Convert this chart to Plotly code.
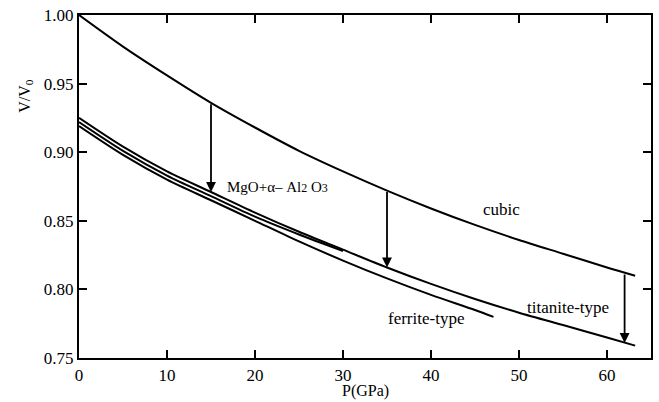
import plotly.graph_objects as go

# Pressure grid (GPa) and relative volumes V/V0 for each phase
p_cubic = [0, 5, 10, 15, 20, 25, 30, 35, 40, 45, 50, 55, 60, 63.2]
v_cubic = [1.000, 0.977, 0.956, 0.936, 0.918, 0.901, 0.886, 0.872, 0.859, 0.847, 0.836, 0.826, 0.816, 0.810]

p_titanite = [0, 5, 10, 15, 20, 25, 30, 35, 40, 45, 50, 55, 60, 63.2]
v_titanite = [0.925, 0.904, 0.886, 0.871, 0.856, 0.842, 0.829, 0.816, 0.804, 0.793, 0.783, 0.774, 0.765, 0.759]

p_oxides = [0, 5, 10, 15, 20, 25, 30]
v_oxides = [0.922, 0.901, 0.883, 0.868, 0.853, 0.840, 0.828]

p_ferrite = [0, 5, 10, 15, 20, 25, 30, 35, 40, 45, 47.1]
v_ferrite = [0.919, 0.898, 0.880, 0.865, 0.850, 0.835, 0.821, 0.808, 0.796, 0.785, 0.780]

# Transition arrows: pressure, V/V0 at start (cubic) and end (titanite-type)
arrow_p = [15, 35, 62]
arrow_from = [0.936, 0.872, 0.812]
arrow_to = [0.871, 0.816, 0.761]

x_ticks = [0, 10, 20, 30, 40, 50, 60]
y_ticks = [0.75, 0.80, 0.85, 0.90, 0.95, 1.00]

FONT = "Liberation Serif, Times New Roman, serif"

fig = go.Figure()
line_style = dict(color="black", width=2, shape="spline", smoothing=0.8)
for px, vy in [(p_cubic, v_cubic), (p_titanite, v_titanite),
               (p_oxides, v_oxides), (p_ferrite, v_ferrite)]:
    fig.add_trace(go.Scatter(x=px, y=vy, mode="lines", line=line_style,
                             showlegend=False, hoverinfo="skip"))

annotations = []
for p, y0, y1 in zip(arrow_p, arrow_from, arrow_to):
    annotations.append(dict(x=p, y=y1, ax=p, ay=y0, xref="x", yref="y",
                            axref="x", ayref="y", showarrow=True,
                            arrowhead=2, arrowsize=1.1, arrowwidth=1.8,
                            arrowcolor="black", text=""))

label_font = dict(family=FONT, size=17, color="black")
annotations += [
    dict(x=48.0, y=0.858, text="cubic", showarrow=False, font=label_font),
    dict(x=55.6, y=0.787, text="titanite-type", showarrow=False, font=label_font),
    dict(x=39.4, y=0.779, text="ferrite-type", showarrow=False, font=label_font),
    dict(x=16.6, y=0.875, xanchor="left",
         text='MgO+α– Al<span style="font-size:12px">2</span> O<span style="font-size:12px">3</span>',
         showarrow=False, font=dict(family=FONT, size=15, color="black")),
    dict(xref="paper", yref="paper", x=-0.094, y=0.765,
         xanchor="center", yanchor="middle",
         text="V/V<sub>0</sub>", textangle=-90, showarrow=False,
         font=dict(family=FONT, size=16, color="black")),
    dict(xref="paper", yref="paper", x=0.5, y=-0.097,
         xanchor="center", yanchor="middle",
         text="P(GPa)", showarrow=False,
         font=dict(family=FONT, size=16, color="black")),
]

axis_common = dict(showline=True, linecolor="black", linewidth=2.3,
                   mirror="ticks", ticks="inside", ticklen=8, tickwidth=2.3,
                   tickcolor="black", showgrid=False, zeroline=False,
                   tickfont=dict(family=FONT, size=17, color="black"))

fig.update_layout(
    width=659, height=402,
    margin=dict(l=79, r=6, t=15, b=44),
    paper_bgcolor="white", plot_bgcolor="white",
    font=dict(family=FONT, size=17, color="black"),
    xaxis=dict(range=[0, 65], tickvals=x_ticks,
               ticktext=[str(v) for v in x_ticks],
               **axis_common),
    yaxis=dict(range=[0.75, 1.00], tickvals=y_ticks,
               ticktext=[f"{v:.2f}" for v in y_ticks],
               **axis_common),
    annotations=annotations,
)

fig.write_html("out.html")
